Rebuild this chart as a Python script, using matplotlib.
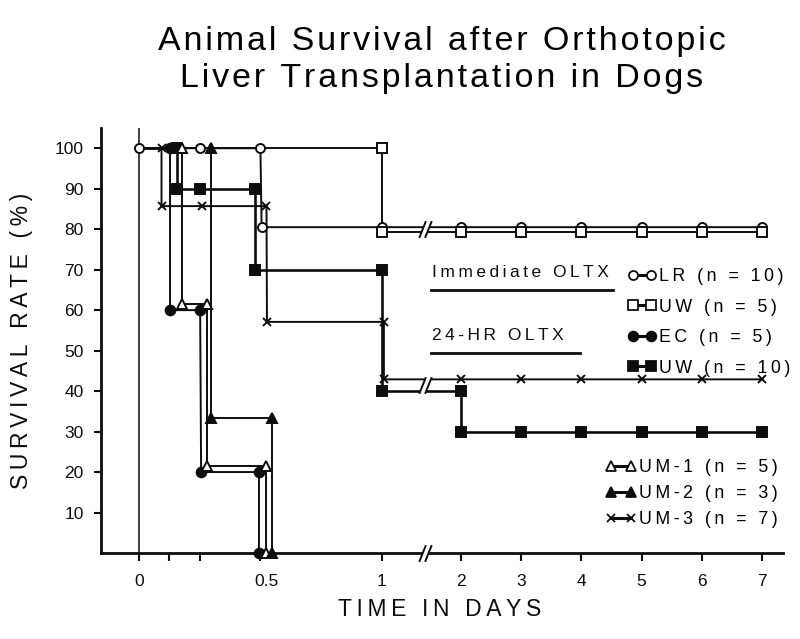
import numpy as np
import matplotlib
matplotlib.use("Agg")
import matplotlib.pyplot as plt
from matplotlib.path import Path
from matplotlib.lines import Line2D
from matplotlib.transforms import ScaledTranslation

FONT = ["Liberation Sans", "DejaVu Sans"]
plt.rcParams["font.family"] = FONT

# time in days, survival rate in %
lr_t = [0, 0.25, 0.5, 0.505, 1, 2, 3, 4, 5, 6, 7]
lr_s = [100, 100, 100, 80, 80, 80, 80, 80, 80, 80, 80]

uw5_t = [0, 1, 1, 2, 3, 4, 5, 6, 7]
uw5_s = [100, 100, 80, 80, 80, 80, 80, 80, 80]

ec_t = [0, 0.128, 0.128, 0.252, 0.256, 0.494, 0.494]
ec_s = [100, 100, 60, 60, 20, 20, 0]

uw10_t = [0, 0.155, 0.155, 0.251, 0.477, 0.477, 1, 1, 2, 2, 3, 4, 5, 6, 7]
uw10_s = [100, 100, 90, 90, 90, 70, 70, 40, 40, 30, 30, 30, 30, 30, 30]

um1_t = [0, 0.178, 0.178, 0.28, 0.28, 0.522, 0.522]
um1_s = [100, 100, 60, 60, 20, 20, 0]

um2_t = [0, 0.297, 0.297, 0.547, 0.547]
um2_s = [100, 100, 33.3, 33.3, 0]

um3_t = [0, 0.093, 0.093, 0.258, 0.525, 0.527, 1.025, 1.025, 2, 3, 4, 5, 6, 7]
um3_s = [100, 100, 85.7, 85.7, 85.7, 57.1, 57.1, 42.9, 42.9, 42.9, 42.9, 42.9, 42.9, 42.9]

x_ticks = [0, 0.5, 1, 2, 3, 4, 5, 6, 7]
x_labels = ["0", "0.5", "1", "2", "3", "4", "5", "6", "7"]
x_minor = [0.125, 0.25]
y_ticks = [10, 20, 30, 40, 50, 60, 70, 80, 90, 100]

# broken time axis: first day stretched, 1-2 gap, then days 2-7 compressed
K1 = 79 / 243.0
K2 = 60.2 / 243.0


def fwd(t):
    t = np.asarray(t, float)
    return np.where(t <= 1, t, np.where(t <= 2, 1 + (t - 1) * K1, 1 + K1 + (t - 2) * K2))


def inv(u):
    u = np.asarray(u, float)
    return np.where(u <= 1, u, np.where(u <= 1 + K1, 1 + (u - 1) / K1, 2 + (u - 1 - K1) / K2))


def spaced(s, sep="\u2009"):
    return sep.join(s)


def shown(s, off):
    s = np.asarray(s, float)
    return np.where((s > 0) & (s < 100), s + off, s)


fig = plt.figure(figsize=(8, 6.39), dpi=100)
ax = fig.add_axes([101 / 800, 86 / 639, 682 / 800, 425 / 639])
ax.set_xscale("function", functions=(fwd, inv))
ax.set_xlim(-0.156, 7.35)
ax.set_ylim(0, 105)

K = "#0d0d0d"
series = [
    (lr_t, lr_s, "LR (n = 10)", dict(marker="o", mfc="white", ms=6.5), 0.5, 0),
    (uw5_t, uw5_s, "UW (n = 5)", dict(marker="s", mfc="white", ms=6.5), -0.7, 1),
    (ec_t, ec_s, "EC (n = 5)", dict(marker="o", mfc=K, ms=7), 0, 1),
    (uw10_t, uw10_s, "UW (n = 10)", dict(marker="s", mfc=K, ms=7), 0, 1),
    (um1_t, um1_s, "UM-1 (n = 5)", dict(marker="^", mfc="white", ms=7.5), 1.5, 1),
    (um2_t, um2_s, "UM-2 (n = 3)", dict(marker="^", mfc=K, ms=7.5), 0, 1),
    (um3_t, um3_s, "UM-3 (n = 7)", dict(marker="x", ms=5.5), 0, 1),
]

ax.axvline(0, color=K, lw=1.1, zorder=1)

handles = []
for t, s, lab, mk, off, first in series:
    y = shown(s, off)
    lw = 1.9 if lab.startswith("UW (n = 10") else 1.4
    ax.plot(t, y, color=K, lw=lw, zorder=2, clip_on=False)
    ax.plot(t[first:], y[first:], ls="none", color=K, mec=K, mew=1.4,
            zorder=4, clip_on=False, **mk)
    handles.append(Line2D([], [], color=K, lw=2.2, mec=K, mew=1.3, **mk))

# axis break marks
slash = Path([(-0.75, -1), (0.05, 1), (-0.05, -1), (0.75, 1)],
             [Path.MOVETO, Path.LINETO, Path.MOVETO, Path.LINETO])
gap = Path([(-0.75, -1), (-0.05, -1), (0.75, 1), (0.05, 1), (-0.75, -1)],
           [Path.MOVETO, Path.LINETO, Path.LINETO, Path.LINETO, Path.CLOSEPOLY])
brk_t = [1.54, 1.54, 1.54]
brk_y = [80, 41.5, 0]
ax.plot(brk_t, brk_y, ls="none", marker=gap, ms=12, mfc="white", mec="none",
        zorder=5, clip_on=False)
ax.plot(brk_t, brk_y, ls="none", marker=slash, ms=12, mec=K, mew=1.4,
        zorder=6, clip_on=False)

for side in ["top", "right"]:
    ax.spines[side].set_visible(False)
for side in ["left", "bottom"]:
    ax.spines[side].set_linewidth(2)
    ax.spines[side].set_color(K)

ax.set_xticks(x_ticks)
ax.set_xticklabels(x_labels)
ax.set_xticks(x_minor, minor=True)
ax.set_yticks(y_ticks)
ax.tick_params(axis="both", which="both", direction="out", colors=K, width=1.5,
               labelsize=12.5)
ax.tick_params(axis="x", which="both", length=6, pad=9)
ax.tick_params(axis="y", length=5, pad=7.5)
# the "0.5" label sits a little right of its tick in the original
half = ax.get_xticklabels()[1]
half.set_transform(half.get_transform() + ScaledTranslation(0.06, 0, fig.dpi_scale_trans))

ax.set_xlabel(spaced("TIME IN DAYS"), fontsize=16.5, color=K, va="center")
ax.xaxis.set_label_coords(0.497, -0.134)
ax.set_ylabel(spaced("SURVIVAL RATE (%)"), fontsize=16.5, color=K, va="center")
ax.yaxis.set_label_coords(-0.116, 0.5)

title = ["Animal Survival after Orthotopic", "Liver Transplantation in Dogs"]
ax.text(0.5, 1.16, "\n".join(spaced(s, "\u200a") for s in title),
        transform=ax.transAxes, ha="center", va="center", fontsize=24.5,
        linespacing=1.25, color="black")

# legend group headers
for txt, y, x1 in [("Immediate OLTX", 273, 613), ("24-HR OLTX", 336, 580)]:
    fig.text(432 / 800, 1 - y / 639, spaced(txt), ha="left", va="center",
             fontsize=12.5, color=K)
    fig.add_artist(Line2D([431 / 800, x1 / 800], [1 - (y + 17) / 639] * 2,
                          transform=fig.transFigure, color=K, lw=2))

lab_prop = dict(family=FONT, size=12.8)
leg1 = fig.legend(handles[:4], [spaced(s[2]) for s in series[:4]],
                  loc="upper left", bbox_to_anchor=(628 / 800, 1 - 268 / 639),
                  frameon=False, numpoints=2, handlelength=1.6, handletextpad=0.15,
                  labelspacing=0.76, borderpad=0, borderaxespad=0, prop=lab_prop)
leg2 = fig.legend(handles[4:], [spaced(s[2]) for s in series[4:]],
                  loc="upper left", bbox_to_anchor=(606 / 800, 1 - 459 / 639),
                  frameon=False, numpoints=2, handlelength=1.7, handletextpad=0.15,
                  labelspacing=0.52, borderpad=0, borderaxespad=0, prop=lab_prop)

fig.savefig("out.png", dpi=100)
